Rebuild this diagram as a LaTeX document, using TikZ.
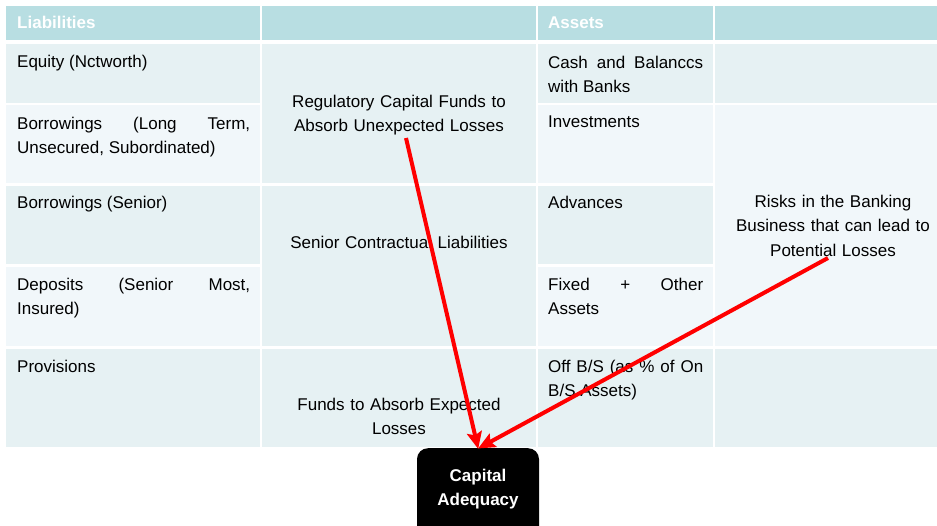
\documentclass[tikz,border=0pt]{standalone}
\usepackage{fontspec}
\setmainfont{Liberation Sans}
\usetikzlibrary{arrows.meta}
\definecolor{hdr}{HTML}{B8DEE2}
\definecolor{cdark}{HTML}{E6F1F3}
\definecolor{clight}{HTML}{F1F7FA}
\definecolor{arrred}{HTML}{FF0000}
\tikzset{
  txt/.style={inner sep=0pt, font=\fontsize{17}{24.5}\selectfont},
  lefttxt/.style={txt, anchor=north west, align=justify, text width=#1},
  midtxt/.style={txt, anchor=north, align=center, text width=#1},
  hdrtxt/.style={txt, anchor=base west, text=white, font=\fontsize{17}{24.5}\selectfont\bfseries},
  capbox/.style={fill=black, rounded corners=11pt, minimum width=122pt, minimum height=100pt, inner sep=0pt, anchor=north},
  captxt/.style={txt, anchor=north, align=center, text=white, font=\fontsize{17}{24.5}\selectfont\bfseries},
  redarrow/.style={draw=arrred, line width=4pt, -{Stealth[length=17pt,width=15pt,inset=3pt]}, shorten >=-1pt}
}
\begin{document}
\begin{tikzpicture}[x=1pt,y=-1pt]
\useasboundingbox (0,0) rectangle (937,526);
\fill[white] (0,0) rectangle (937,526);
\clip (0,0) rectangle (937,526);
% header
\fill[hdr] (6,6.5) rectangle (260,40);
\fill[hdr] (262,6.5) rectangle (535.5,40);
\fill[hdr] (537.5,6.5) rectangle (713,40);
\fill[hdr] (715,6.5) rectangle (937,40);
% column 1
\fill[cdark]  (6,44) rectangle (260,103.5);
\fill[clight] (6,105.5) rectangle (260,183.5);
\fill[cdark]  (6,186) rectangle (260,264.5);
\fill[clight] (6,267) rectangle (260,346.5);
\fill[cdark]  (6,349) rectangle (260,447);
% column 2 (merged)
\fill[cdark] (262,44) rectangle (535.5,183.5);
\fill[cdark] (262,186) rectangle (535.5,346.5);
\fill[cdark] (262,349) rectangle (535.5,447);
% column 3
\fill[cdark]  (537.5,44) rectangle (713,103.5);
\fill[clight] (537.5,105.5) rectangle (713,183.5);
\fill[cdark]  (537.5,186) rectangle (713,264.5);
\fill[clight] (537.5,267) rectangle (713,346.5);
\fill[cdark]  (537.5,349) rectangle (713,447);
% column 4
\fill[cdark]  (715,44) rectangle (937,103.5);
\fill[clight] (715,105.5) rectangle (937,346.5);
\fill[cdark]  (715,349) rectangle (937,447);

% header texts
\node[hdrtxt] (hliab) at (17,29) {Liabilities};
\node[hdrtxt] (hass) at (548,29) {Assets};

% column 1 texts
\node[lefttxt=233pt] (l1) at (17,54.7) {Equity (Nctworth)};
\node[lefttxt=233pt] (l2) at (17,116.7) {Borrowings (Long Term,\linebreak Unsecured, Subordinated)};
\node[lefttxt=233pt] (l3) at (17,195.7) {Borrowings (Senior)};
\node[lefttxt=233pt] (l4) at (17,277.7) {Deposits (Senior Most,\linebreak Insured)};
\node[lefttxt=233pt] (l5) at (17,359.7) {Provisions};

% column 3 texts
\node[lefttxt=155pt] (a1) at (548,55.7) {Cash and Balanccs\linebreak with Banks};
\node[lefttxt=155pt] (a2) at (548,115.7) {Investments};
\node[lefttxt=155pt] (a3) at (548,195.7) {Advances};
\node[lefttxt=155pt] (a4) at (548,277.7) {Fixed + Other\linebreak Assets};
\node[lefttxt=155pt] (a5) at (548,359.7) {Off B/S (as \% of On\linebreak B/S Assets)};

% column 2 texts
\node[midtxt=270pt] (m1) at (399,94.7) {Regulatory Capital Funds to\\Absorb Unexpected Losses};
\node[midtxt=270pt] (m2) at (399,235.7) {Senior Contractual Liabilities};
\node[midtxt=270pt] (m3) at (399,397.7) {Funds to Absorb Expected\\Losses};

% column 4 text
\node[midtxt=215pt] (r1) at (833,194.7) {Risks in the Banking\\Business that can lead to\\Potential Losses};

% capital adequacy box
\node[capbox] (cap) at (478,448) {};
\node[captxt] (capt) at (478,468.5) {Capital\\Adequacy};

% arrows
\coordinate (s1) at (406,138);
\coordinate (s2) at (828,258);
\draw[redarrow] (s1) -- (cap.north);
\draw[redarrow] (s2) -- ([xshift=1pt]cap.north);
\end{tikzpicture}
\end{document}
